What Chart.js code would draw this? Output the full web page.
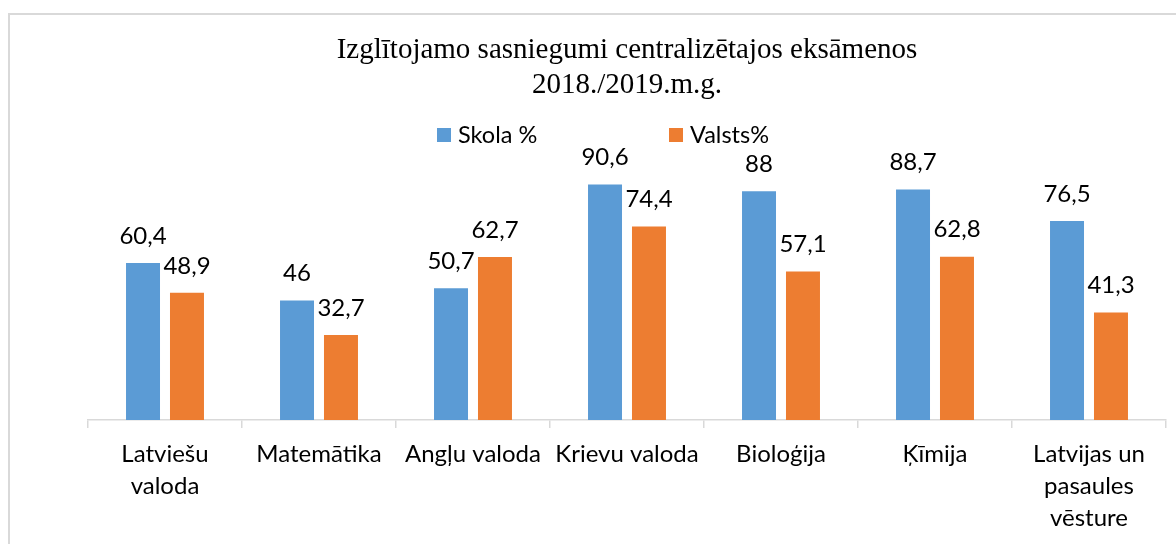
<!DOCTYPE html>
<html>
<head>
<meta charset="utf-8">
<script src="https://cdn.jsdelivr.net/npm/chart.js@4/dist/chart.umd.min.js"></script>
<style>
  html, body { margin: 0; padding: 0; background: #fff; overflow: hidden; }
  #wrap { position: relative; width: 1176px; height: 544px; }
  #frame {
    position: absolute; left: 8px; top: 13px; width: 1300px; height: 700px;
    border: 2px solid #d9d9d9; pointer-events: none;
  }
  canvas { position: absolute; left: 0; top: 0; }
</style>
</head>
<body>
<div id="wrap">
  <canvas id="chart" width="1176" height="544"></canvas>
  <div id="frame"></div>
</div>
<script>
const categories = [
  ["Latviešu", "valoda"],
  "Matemātika",
  "Angļu valoda",
  "Krievu valoda",
  "Bioloģija",
  "Ķīmija",
  ["Latvijas un", "pasaules", "vēsture"],
];
const skola = [60.4, 46, 50.7, 90.6, 88, 88.7, 76.5];
const valsts = [48.9, 32.7, 62.7, 74.4, 57.1, 62.8, 41.3];
const seriesNames = ["Skola %", "Valsts%"];
const titleLines = ["Izglītojamo sasniegumi centralizētajos eksāmenos", "2018./2019.m.g."];

const blue = "#5B9BD5";
const orange = "#ED7D31";
const sans = "Lato, 'Noto Sans', sans-serif";

// value labels above each bar, decimal comma
const barLabels = {
  id: "barLabels",
  afterDatasetsDraw(chart) {
    const ctx = chart.ctx;
    ctx.save();
    ctx.font = "24px " + sans;
    ctx.fillStyle = "#000";
    ctx.textAlign = "center";
    ctx.textBaseline = "middle";
    chart.data.datasets.forEach((ds, i) => {
      chart.getDatasetMeta(i).data.forEach((bar, j) => {
        const txt = String(ds.data[j]).replace(".", ",");
        ctx.fillText(txt, bar.x, bar.y - 27);
      });
    });
    ctx.restore();
  },
};

// Excel-style wide legend
const wideLegend = {
  id: "wideLegend",
  afterDraw(chart) {
    const ctx = chart.ctx;
    const xs = [437, 669];
    ctx.save();
    ctx.font = "23.5px " + sans;
    ctx.textBaseline = "middle";
    ctx.textAlign = "left";
    chart.data.datasets.forEach((ds, i) => {
      ctx.fillStyle = ds.backgroundColor;
      ctx.fillRect(xs[i], 128, 14, 14);
      ctx.fillStyle = "#000";
      ctx.fillText(ds.label, xs[i] + 21, 135);
    });
    ctx.restore();
  },
};

new Chart(document.getElementById("chart"), {
  type: "bar",
  data: {
    labels: categories,
    datasets: [
      { label: seriesNames[0], data: skola, backgroundColor: blue },
      { label: seriesNames[1], data: valsts, backgroundColor: orange },
    ],
  },
  options: {
    responsive: false,
    animation: false,
    layout: { padding: { left: 88, right: 10, top: 0, bottom: 0 } },
    datasets: { bar: { categoryPercentage: 0.571, barPercentage: 0.773 } },
    plugins: {
      legend: { display: false },
      tooltip: { enabled: false },
      title: {
        display: true,
        text: titleLines,
        color: "#000",
        font: { family: "'Liberation Serif', serif", size: 29, weight: "normal", lineHeight: 1.2 },
        padding: { top: 33, bottom: 57.4 },
      },
    },
    scales: {
      x: {
        grid: {
          offset: true,
          drawOnChartArea: false,
          drawTicks: true,
          tickLength: 8,
          color: "#d9d9d9",
          lineWidth: 1.5,
        },
        border: { color: "#d9d9d9", width: 1.5 },
        ticks: {
          color: "#000",
          font: { family: sans, size: 24, lineHeight: 1.34 },
          padding: 10,
          maxRotation: 0,
          autoSkip: false,
        },
        afterFit: (scale) => { scale.height = 124; },
      },
      y: { display: false, min: 0, max: 100 },
    },
  },
  plugins: [barLabels, wideLegend],
});
</script>
</body>
</html>
